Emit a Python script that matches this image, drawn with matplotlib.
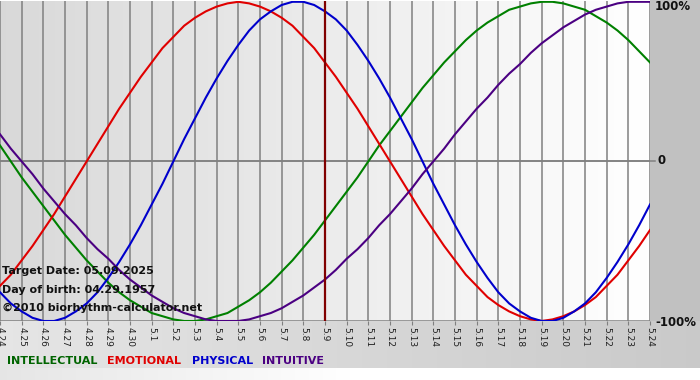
import numpy as np
import matplotlib
matplotlib.use("Agg")
import matplotlib.pyplot as plt

# day labels along the bottom (month.day)
days = ["4.24", "4.25", "4.26", "4.27", "4.28", "4.29", "4.30",
        "5.1", "5.2", "5.3", "5.4", "5.5", "5.6", "5.7", "5.8", "5.9",
        "5.10", "5.11", "5.12", "5.13", "5.14", "5.15", "5.16", "5.17",
        "5.18", "5.19", "5.20", "5.21", "5.22", "5.23", "5.24"]

# cycle values every half day (-1 .. 1)
physical = [-0.82, -0.89, -0.94, -0.98, -1.00, -1.00, -0.98, -0.94, -0.89,
            -0.82, -0.73, -0.63, -0.52, -0.40, -0.27, -0.14, 0.00, 0.14,
            0.27, 0.40, 0.52, 0.63, 0.73, 0.82, 0.89, 0.94, 0.98, 1.00,
            1.00, 0.98, 0.94, 0.89, 0.82, 0.73, 0.63, 0.52, 0.40, 0.27,
            0.14, 0.00, -0.14, -0.27, -0.40, -0.52, -0.63, -0.73, -0.82,
            -0.89, -0.94, -0.98, -1.00, -1.00, -0.98, -0.94, -0.89, -0.82,
            -0.73, -0.63, -0.52, -0.40, -0.27]
emotional = [-0.78, -0.71, -0.62, -0.53, -0.43, -0.33, -0.22, -0.11, 0.00,
             0.11, 0.22, 0.33, 0.43, 0.53, 0.62, 0.71, 0.78, 0.85, 0.90,
             0.94, 0.97, 0.99, 1.00, 0.99, 0.97, 0.94, 0.90, 0.85, 0.78,
             0.71, 0.62, 0.53, 0.43, 0.33, 0.22, 0.11, 0.00, -0.11, -0.22,
             -0.33, -0.43, -0.53, -0.62, -0.71, -0.78, -0.85, -0.90, -0.94,
             -0.97, -0.99, -1.00, -0.99, -0.97, -0.94, -0.90, -0.85, -0.78,
             -0.71, -0.62, -0.53, -0.43]
intellectual = [0.10, 0.00, -0.10, -0.19, -0.28, -0.37, -0.46, -0.54, -0.62,
                -0.69, -0.76, -0.82, -0.87, -0.91, -0.95, -0.97, -0.99,
                -1.00, -1.00, -0.99, -0.97, -0.95, -0.91, -0.87, -0.82,
                -0.76, -0.69, -0.62, -0.54, -0.46, -0.37, -0.28, -0.19,
                -0.10, 0.00, 0.10, 0.19, 0.28, 0.37, 0.46, 0.54, 0.62, 0.69,
                0.76, 0.82, 0.87, 0.91, 0.95, 0.97, 0.99, 1.00, 1.00, 0.99,
                0.97, 0.95, 0.91, 0.87, 0.82, 0.76, 0.69, 0.62]
intuitive = [0.17, 0.08, 0.00, -0.08, -0.17, -0.25, -0.33, -0.40, -0.48,
             -0.55, -0.61, -0.68, -0.74, -0.79, -0.84, -0.88, -0.92, -0.95,
             -0.97, -0.99, -1.00, -1.00, -1.00, -0.99, -0.97, -0.95, -0.92,
             -0.88, -0.84, -0.79, -0.74, -0.68, -0.61, -0.55, -0.48, -0.40,
             -0.33, -0.25, -0.17, -0.08, 0.00, 0.08, 0.17, 0.25, 0.33, 0.40,
             0.48, 0.55, 0.61, 0.68, 0.74, 0.79, 0.84, 0.88, 0.92, 0.95,
             0.97, 0.99, 1.00, 1.00, 1.00]

target_day = "5.9"
info_lines = ["Target Date: 05.09.2025", "Day of birth: 04.29.1957",
              "\u00a92010 biorhythm-calculator.net"]
legend_names = ["INTELLECTUAL", "EMOTIONAL", "PHYSICAL", "INTUITIVE"]

W, H = 700, 380
fig = plt.figure(figsize=(W / 100, H / 100), dpi=100, facecolor="white")


def fx(px):
    return px / W


def fy(py):
    return 1 - py / H


# whole-figure background
bg = fig.add_axes([0, 0, 1, 1], zorder=-10)
img = np.ones((H, W))
xs = np.linspace(0, 1, W)
img[:321, 650:] = 0.76
img[321:, :] = (0.90 - 0.11 * xs)[None, :]
row = np.clip(0.90 + 0.10 * xs * 2, 0, 1)
img[368:, :] = row[None, :]
bg.imshow(np.dstack([img] * 3), extent=[0, W, H, 0], aspect="auto")
bg.set_xlim(0, W)
bg.set_ylim(H, 0)
bg.axis("off")

ax = fig.add_axes([fx(0), fy(321), fx(650), 320 / H])
n = len(days)
x = np.arange(n)
xh = np.arange(len(physical)) / 2
grad = np.linspace(0.85, 1.0, 200)[None, :]
ax.imshow(np.dstack([grad] * 3), extent=[0, n - 1, -1, 1], aspect="auto",
          zorder=0)

for i in x:
    ax.axvline(i, color="#808080", lw=1.1, zorder=1)
ax.axhline(0, color="#808080", lw=1.1, zorder=1)
ax.plot([0, n - 1 + 0.25], [0, 0], color="#808080", lw=1.1, clip_on=False)
ax.axhline(-1, color="#808080", lw=1.1, zorder=1)

ax.plot(xh, intellectual, color="#008000", lw=1.5, zorder=3)
ax.plot(xh, emotional, color="#e00000", lw=1.5, zorder=3)
ax.plot(xh, physical, color="#0000cc", lw=1.5, zorder=3)
ax.plot(xh, intuitive, color="#4b0082", lw=1.5, zorder=3)
ax.axvline(days.index(target_day), color="#800000", lw=1.6, zorder=4)

ax.set_xlim(0, n - 1)
ax.set_ylim(-1, 1.005)
ax.set_xticks(x)
ax.set_xticklabels(days, rotation=-90, fontsize=6.5, color="#202020",
                   fontfamily="DejaVu Sans")
ax.tick_params(axis="x", length=3, width=0.8, color="#808080", pad=1)
ax.set_yticks([])
for s in ax.spines.values():
    s.set_visible(False)

# right side percent labels
rk = dict(fontsize=8.5, fontweight="bold", color="#111111", va="center")
fig.text(fx(655), fy(7), "100%", **rk)
fig.text(fx(657), fy(161), "0", **rk)
fig.text(fx(655), fy(322), "-100%", **rk)

# info text block
for t, py in zip(info_lines, [271, 290, 308]):
    fig.text(fx(2), fy(py), t, fontsize=8, fontweight="bold",
             color="#111111", va="center")

# colored legend words
leg_colors = ["#006400", "#e00000", "#0000cc", "#4b0082"]
leg_x = [7, 107, 192, 262]
for name, c, px in zip(legend_names, leg_colors, leg_x):
    fig.text(fx(px), fy(361), name, fontsize=8, fontweight="bold",
             color=c, va="center")

fig.savefig("out.png", dpi=100)
